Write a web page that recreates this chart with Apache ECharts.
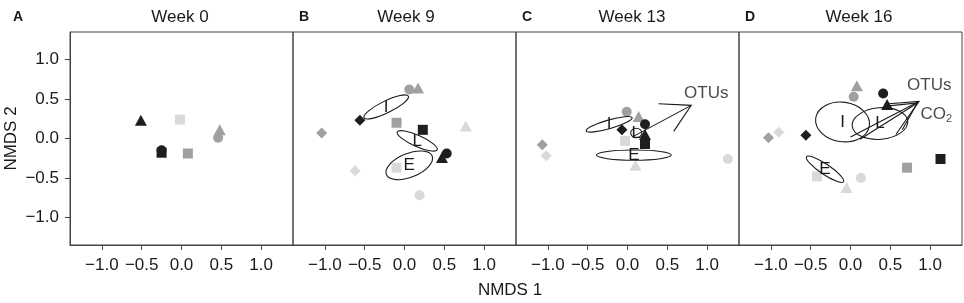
<!DOCTYPE html>
<html>
<head>
<meta charset="utf-8">
<script src="https://cdn.jsdelivr.net/npm/echarts@6/dist/echarts.min.js"></script>
<style>
  html, body { margin: 0; padding: 0; background: #fff; }
  #chart { width: 964px; height: 303px; }
</style>
</head>
<body>
<div id="chart"></div>
<script>
// Tick values shared by all panels
const tickValues = [-1.0, -0.5, 0.0, 0.5, 1.0];

const panelNames = ['Week 0', 'Week 9', 'Week 13', 'Week 16'];
const panelLetters = ['A', 'B', 'C', 'D'];

// Points: [NMDS1, NMDS2, shape, tone]
const week0Points = [
    [-0.51, 0.23, 'tri', 'k'],
    [-0.02, 0.24, 'sq', 'l'],
    [0.08, -0.19, 'sq', 'g'],
    [0.48, 0.11, 'tri', 'g'],
    [0.46, 0.01, 'circ', 'g'],
    [-0.25, -0.18, 'sq', 'k'],
    [-0.25, -0.15, 'circ', 'k'],
];

const week9Points = [
    [0.06, 0.62, 'circ', 'g'],
    [0.17, 0.64, 'tri', 'g'],
    [-0.56, 0.23, 'dia', 'k'],
    [-0.10, 0.20, 'sq', 'g'],
    [0.23, 0.11, 'sq', 'k'],
    [-1.04, 0.07, 'dia', 'g'],
    [0.77, 0.16, 'tri', 'l'],
    [0.47, -0.24, 'tri', 'k'],
    [0.53, -0.19, 'circ', 'k'],
    [-0.62, -0.41, 'dia', 'l'],
    [-0.10, -0.37, 'sq', 'l'],
    [0.19, -0.72, 'circ', 'l'],
];

const week13Points = [
    [-0.01, 0.34, 'circ', 'g'],
    [0.14, 0.28, 'tri', 'g'],
    [-0.03, -0.03, 'sq', 'l'],
    [-0.07, 0.11, 'dia', 'k'],
    [0.22, -0.07, 'sq', 'k'],
    [0.22, 0.05, 'tri', 'k'],
    [0.22, 0.18, 'circ', 'k'],
    [-1.07, -0.08, 'dia', 'g'],
    [-1.02, -0.22, 'dia', 'l'],
    [0.10, -0.34, 'tri', 'l'],
    [1.26, -0.26, 'circ', 'l'],
];

const week16Points = [
    [0.08, 0.67, 'tri', 'g'],
    [0.04, 0.53, 'circ', 'g'],
    [0.41, 0.57, 'circ', 'k'],
    [0.46, 0.43, 'tri', 'k'],
    [-1.03, 0.01, 'dia', 'g'],
    [-0.90, 0.08, 'dia', 'l'],
    [-0.56, 0.04, 'dia', 'k'],
    [1.13, -0.26, 'sq', 'k'],
    [0.71, -0.37, 'sq', 'g'],
    [-0.42, -0.48, 'sq', 'l'],
    [0.13, -0.50, 'circ', 'l'],
    [-0.05, -0.62, 'tri', 'l'],
];

// Group ellipses: [centre x, centre y, semi-axis x, semi-axis y, angle deg]
const ellipseLabels = ['I', 'L', 'E'];
const week9Ellipses = [
    [-0.23, 0.40, 0.31, 0.075, 26],
    [0.16, -0.03, 0.275, 0.07, -24],
    [0.06, -0.34, 0.31, 0.15, 22],
];
const week13Ellipses = [
    [-0.23, 0.18, 0.30, 0.055, 16],
    [0.11, 0.07, 0.07, 0.06, 0],
    [0.08, -0.21, 0.47, 0.065, 0],
];
const week16Ellipses = [
    [-0.10, 0.21, 0.34, 0.25, -8],
    [0.37, 0.19, 0.35, 0.20, 5],
    [-0.32, -0.39, 0.28, 0.065, -34],
];

// Fitted vectors: [x0, y0, tip x, tip y, head1 x, head1 y, head2 x, head2 y]
const week13Vectors = [
    [0.08, 0.03, 0.80, 0.42, 0.39, 0.44, 0.58, 0.09],
];
const week16Vectors = [
    [0.0, 0.02, 0.86, 0.47, 0.48, 0.44, 0.57, 0.05],
    [0.12, -0.01, 0.84, 0.45, 0.45, 0.41, 0.65, 0.11],
];
// Vector labels: [x, y, text]
const week13VectorLabels = [[0.71, 0.575, 'OTUs']];
const week16VectorLabels = [[0.71, 0.67, 'OTUs'], [0.88, 0.31, 'CO2']];

const FONT = 'Liberation Sans, Arial, Helvetica, sans-serif';
const INK = '#1a1a1a';
const FRAME = '#444';

const toneColor = { k: '#1e1e1e', g: '#a0a0a0', l: '#d9d9d9' };
const shapeSymbol = { tri: 'triangle', sq: 'rect', circ: 'circle', dia: 'diamond' };
const shapeSize = { tri: [12, 11], sq: [10, 10], circ: [10, 10], dia: [11, 11] };

const panelLeft = [70, 293, 516, 739];
const panelWidth = 223;
const panelTop = 32;
const panelHeight = 213;
const titleCenter = [175, 401, 627, 854];

function fmtTick(v) {
    const s = Math.abs(v).toFixed(1);
    return v < 0 ? '\u2212' + s : s;
}

function ellipseRender(params, api) {
    const c = api.coord([api.value(0), api.value(1)]);
    const s = api.size([api.value(2), api.value(3)]);
    return {
        type: 'group',
        children: [
            {
                type: 'ellipse',
                x: c[0], y: c[1],
                rotation: api.value(4) * Math.PI / 180,
                shape: { cx: 0, cy: 0, rx: s[0], ry: s[1] },
                style: { fill: 'none', stroke: INK, lineWidth: 1.1 },
            },
            {
                type: 'text',
                x: c[0], y: c[1],
                style: {
                    text: ellipseLabels[params.dataIndex],
                    font: '17px ' + FONT,
                    fill: INK,
                    align: 'center',
                    verticalAlign: 'middle',
                },
            },
        ],
    };
}

function vectorRender(params, api) {
    const p0 = api.coord([api.value(0), api.value(1)]);
    const tip = api.coord([api.value(2), api.value(3)]);
    const h1 = api.coord([api.value(4), api.value(5)]);
    const h2 = api.coord([api.value(6), api.value(7)]);
    const style = { stroke: INK, lineWidth: 1.1, fill: 'none' };
    return {
        type: 'group',
        children: [
            { type: 'line', shape: { x1: p0[0], y1: p0[1], x2: tip[0], y2: tip[1] }, style },
            { type: 'polyline', shape: { points: [h1, tip, h2] }, style },
        ],
    };
}

function scatterSeries(points, idx) {
    return {
        type: 'scatter',
        xAxisIndex: idx,
        yAxisIndex: idx,
        data: points.map(p => ({
            value: [p[0], p[1]],
            symbol: shapeSymbol[p[2]],
            symbolSize: shapeSize[p[2]],
            itemStyle: { color: toneColor[p[3]], opacity: 1 },
        })),
        itemStyle: { opacity: 1 },
        z: 2,
        silent: true,
    };
}

function ellipseSeries(ellipses, idx) {
    return {
        type: 'custom',
        xAxisIndex: idx,
        yAxisIndex: idx,
        renderItem: ellipseRender,
        data: ellipses,
        z: 3,
        silent: true,
    };
}

function vectorSeries(vectors, labels, idx) {
    return [
        {
            type: 'custom',
            xAxisIndex: idx,
            yAxisIndex: idx,
            renderItem: vectorRender,
            data: vectors,
            z: 4,
            silent: true,
        },
        {
            type: 'scatter',
            xAxisIndex: idx,
            yAxisIndex: idx,
            symbolSize: 0,
            data: labels.map(l => ({ value: [l[0], l[1]], name: l[2] })),
            label: {
                show: true,
                position: 'inside',
                align: 'left',
                verticalAlign: 'middle',
                color: INK,
                fontFamily: FONT,
                fontSize: 17,
                formatter: p => p.name === 'CO2' ? '{a|CO}{b|2}' : p.name,
                rich: {
                    a: { fontSize: 17, fontFamily: FONT, color: INK },
                    b: { fontSize: 11, fontFamily: FONT, color: INK, padding: [10, 0, 0, 0] },
                },
            },
            z: 5,
            silent: true,
        },
    ];
}

const grids = panelLeft.map(left => ({
    left, top: panelTop, width: panelWidth, height: panelHeight,
    show: true, borderColor: FRAME, borderWidth: 1, backgroundColor: 'transparent',
}));

const xAxes = panelLeft.map((_, i) => ({
    type: 'value',
    gridIndex: i,
    min: -1.4,
    max: 1.4,
    axisLine: { show: true, onZero: false, lineStyle: { color: FRAME } },
    axisTick: { show: true, inside: false, length: 5, customValues: tickValues, lineStyle: { color: FRAME } },
    axisLabel: {
        show: true, customValues: tickValues, formatter: fmtTick, margin: 12,
        color: INK, fontFamily: FONT, fontSize: 17,
    },
    splitLine: { show: false },
}));

const yAxes = panelLeft.map((_, i) => ({
    type: 'value',
    gridIndex: i,
    min: -1.35,
    max: 1.35,
    name: i === 0 ? 'NMDS 2' : '',
    nameLocation: 'middle',
    nameGap: 50,
    nameRotate: 90,
    nameTextStyle: { color: INK, fontFamily: FONT, fontSize: 17 },
    axisLine: { show: i === 0, onZero: false, lineStyle: { color: FRAME } },
    axisTick: { show: i === 0, inside: false, length: 5, customValues: tickValues, lineStyle: { color: FRAME } },
    axisLabel: {
        show: i === 0, customValues: tickValues, formatter: fmtTick, margin: 11,
        color: INK, fontFamily: FONT, fontSize: 17,
    },
    splitLine: { show: false },
}));

const titles = [];
panelNames.forEach((name, i) => {
    titles.push({
        text: name, left: titleCenter[i], top: 4, textAlign: 'center',
        textStyle: { color: INK, fontFamily: FONT, fontSize: 17, fontWeight: 'normal' },
    });
    titles.push({
        text: panelLetters[i], left: i === 0 ? 8 : panelLeft[i] + 1, top: 5,
        textStyle: { color: INK, fontFamily: FONT, fontSize: 14, fontWeight: 'bold' },
    });
});
titles.push({
    text: 'NMDS 1', left: 505, top: 277, textAlign: 'center',
    textStyle: { color: INK, fontFamily: FONT, fontSize: 17, fontWeight: 'normal' },
});

const series = [
    scatterSeries(week0Points, 0),
    scatterSeries(week9Points, 1),
    scatterSeries(week13Points, 2),
    scatterSeries(week16Points, 3),
    ellipseSeries(week9Ellipses, 1),
    ellipseSeries(week13Ellipses, 2),
    ellipseSeries(week16Ellipses, 3),
    ...vectorSeries(week13Vectors, week13VectorLabels, 2),
    ...vectorSeries(week16Vectors, week16VectorLabels, 3),
];

const chart = echarts.init(document.getElementById('chart'), null, { renderer: 'canvas' });
chart.setOption({
    animation: false,
    backgroundColor: '#fff',
    title: titles,
    grid: grids,
    xAxis: xAxes,
    yAxis: yAxes,
    series,
});
window.addEventListener('resize', () => chart.resize());
</script>
</body>
</html>
